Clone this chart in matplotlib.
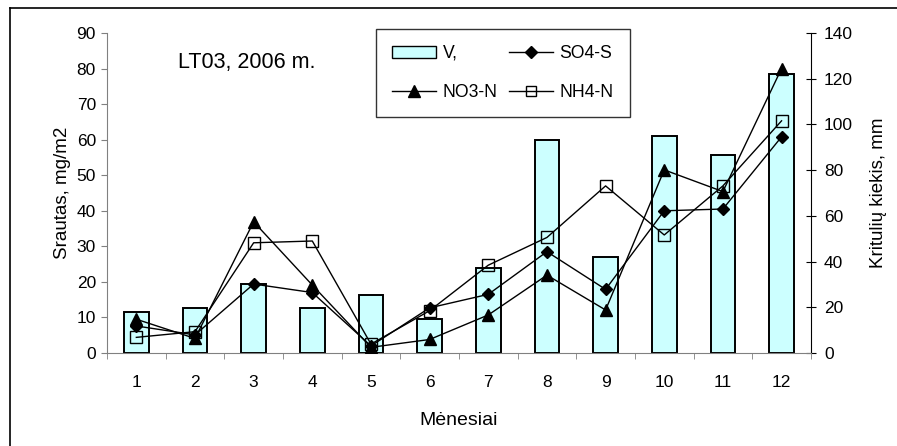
import matplotlib
matplotlib.use('Agg')
import matplotlib.pyplot as plt
from matplotlib.lines import Line2D
from matplotlib.patches import Patch

plt.rcParams['font.family'] = ['Liberation Sans', 'DejaVu Sans']

months = [1, 2, 3, 4, 5, 6, 7, 8, 9, 10, 11, 12]
precip_mm = [18.1, 19.5, 30.2, 19.5, 25.4, 15.0, 37.3, 93.2, 42.1, 94.9, 86.6, 122.0]
so4_s = [7.6, 5.1, 19.4, 17.0, 2.0, 12.7, 16.5, 28.5, 17.9, 40.0, 40.5, 60.8]
no3_n = [9.5, 4.1, 36.9, 19.1, 1.6, 3.8, 10.7, 21.9, 12.1, 51.5, 45.4, 80.0]
nh4_n = [4.4, 6.0, 31.0, 31.5, 2.5, 11.9, 24.7, 32.5, 47.0, 33.2, 47.0, 65.3]

fig = plt.figure(figsize=(8.97, 4.46), dpi=100)
ax = fig.add_axes([0.1193, 0.2085, 0.7847, 0.7175])
ax2 = ax.twinx()

# bars on the secondary axis, drawn behind the lines
ax2.bar(months, precip_mm, width=0.42, color='#CCFFFF', edgecolor='black', lw=1.4, zorder=1)
ax2.set_ylim(0, 140)
ax2.set_yticks(range(0, 141, 20))

ax.set_zorder(ax2.get_zorder() + 1)
ax.patch.set_visible(False)

ax.plot(months, so4_s, color='black', lw=1, marker='D', ms=6.5, mfc='black', zorder=3)
ax.plot(months, no3_n, color='black', lw=1, marker='^', ms=8.5, mfc='black', zorder=3)
ax.plot(months, nh4_n, color='black', lw=1, marker='s', ms=8, mfc='none', mew=1, zorder=3)

ax.set_xlim(0.5, 12.5)
ax.set_ylim(0, 90)
ax.set_yticks(range(0, 91, 10))
ax.set_xticks(months)
ax.set_xticks([m + 0.5 for m in range(0, 13)], minor=True)
ax.tick_params(axis='x', which='major', length=0, pad=16, labelsize=12.5)
ax.tick_params(axis='x', which='minor', length=4, color='#808080', direction='out')
ax.tick_params(axis='y', length=4, color='#808080', labelsize=12.5, pad=4)
ax2.tick_params(axis='y', length=7, direction='inout', color='black', labelsize=12.5, pad=6)

for a in (ax, ax2):
    a.spines['top'].set_visible(False)
ax.spines['left'].set_color('#808080')
ax.spines['bottom'].set_color('#808080')
ax.spines['right'].set_visible(False)
ax2.spines['left'].set_visible(False)
ax2.spines['bottom'].set_visible(False)
ax2.spines['right'].set_color('black')

ax.set_ylabel('Srautas, mg/m2', fontsize=13.5, labelpad=4)
ax2.set_ylabel('Kritulių kiekis, mm', fontsize=13.5, labelpad=12)
ax.set_xlabel('Mėnesiai', fontsize=14, labelpad=16)

ax.text(0.101, 0.909, 'LT03, 2006 m.', transform=ax.transAxes, fontsize=15.5,
        ha='left', va='center')

handles = [
    Patch(facecolor='#CCFFFF', edgecolor='black'),
    Line2D([], [], color='black', lw=1, marker='^', ms=8),
    Line2D([], [], color='black', lw=1, marker='D', ms=6),
    Line2D([], [], color='black', lw=1, marker='s', ms=7, mfc='none'),
]
labels = ['V,', 'NO3-N', 'SO4-S', 'NH4-N']
leg = ax.legend(handles, labels, ncol=2, loc='upper left', bbox_to_anchor=(0.382, 1.0125),
                fontsize=12.7, frameon=True, fancybox=False, edgecolor='black',
                handlelength=2.5, handletextpad=0.4, columnspacing=0.6,
                labelspacing=1.25, borderpad=0.9, borderaxespad=0)
leg.get_frame().set_linewidth(1)

# outer chart frame (only top and left edges visible in the crop)
fig.add_artist(Line2D([10 / 897, 1], [1 - 8 / 446, 1 - 8 / 446], color='black', lw=1.2,
                      transform=fig.transFigure))
fig.add_artist(Line2D([10 / 897, 10 / 897], [0, 1 - 8 / 446], color='black', lw=1.2,
                      transform=fig.transFigure))

fig.savefig('out.png', dpi=100)
